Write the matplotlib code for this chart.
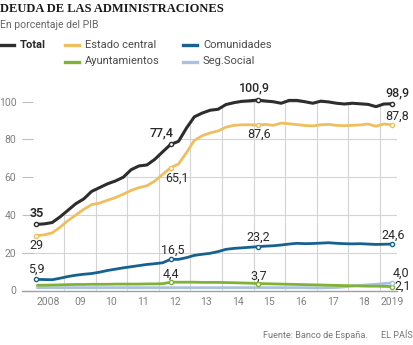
import numpy as np
import matplotlib.pyplot as plt
from matplotlib.patches import Polygon

# Deuda por administración, % del PIB, trimestral 2008T1-2019T2
total = [35.0, 35.3, 36.0, 39.0, 42.5, 46.0, 48.5, 52.5, 54.5, 56.5,
         58.0, 60.0, 64.0, 66.0, 66.5, 69.5, 73.5, 77.4, 79.0, 86.0,
         92.0, 94.0, 95.5, 96.0, 98.5, 99.5, 100.2, 100.5, 100.9, 100.4,
         100.0, 99.2, 100.7, 100.7, 100.0, 99.2, 100.3, 99.9, 99.2, 98.8,
         99.2, 98.9, 98.6, 97.4, 98.8, 98.9]
estado = [29.0, 29.5, 30.5, 33.5, 37.0, 40.0, 43.0, 45.5, 46.3, 47.8,
          49.2, 51.0, 53.0, 54.5, 55.5, 58.0, 61.5, 65.1, 67.0, 73.0,
          79.5, 82.0, 83.5, 84.5, 86.5, 87.5, 87.8, 87.8, 87.6, 88.0,
          87.5, 88.7, 88.3, 87.9, 87.4, 87.2, 87.8, 88.0, 87.5, 87.3,
          87.5, 87.7, 88.2, 87.0, 88.2, 87.8]
comunidades = [5.9, 5.8, 5.7, 6.5, 7.4, 8.1, 8.6, 9.0, 9.7, 10.6,
               11.3, 12.0, 12.6, 13.2, 13.8, 14.2, 14.7, 16.5, 16.5, 17.4,
               18.6, 19.2, 19.7, 20.6, 21.8, 22.3, 22.6, 22.9, 23.2, 23.5,
               23.7, 24.1, 24.6, 25.0, 24.8, 24.9, 25.1, 25.3, 25.0, 24.8,
               24.7, 24.8, 24.6, 24.4, 24.5, 24.6]
ayuntamientos = [2.8, 2.8, 2.9, 3.0, 3.1, 3.2, 3.2, 3.3, 3.3, 3.3,
                 3.4, 3.4, 3.4, 3.4, 3.5, 3.5, 3.6, 4.4, 4.4, 4.4,
                 4.4, 4.3, 4.3, 4.3, 4.2, 4.1, 4.0, 3.9, 3.7, 3.6,
                 3.5, 3.4, 3.3, 3.2, 3.1, 3.0, 2.9, 2.8, 2.7, 2.6,
                 2.5, 2.4, 2.3, 2.3, 2.2, 2.1]
seg_social = [1.5, 1.5, 1.5, 1.5, 1.5, 1.5, 1.5, 1.5, 1.5, 1.5,
              1.5, 1.5, 1.5, 1.5, 1.5, 1.5, 1.5, 1.5, 1.5, 1.5,
              1.5, 1.5, 1.5, 1.5, 1.5, 1.5, 1.5, 1.5, 1.5, 1.5,
              1.5, 1.5, 1.5, 1.5, 1.5, 1.4, 1.4, 1.5, 1.6, 1.9,
              2.4, 2.7, 3.0, 3.3, 3.7, 4.0]

year_labels = ["2008", "09", "10", "11", "12", "13", "14", "15", "16", "17", "18", "2019"]
y_ticks = [0, 20, 40, 60, 80, 100]

C_TOTAL = "#2d2d2d"
C_ESTADO = "#efbf5f"
C_CCAA = "#17618f"
C_AYTO = "#80b236"
C_SS = "#a9c2dd"
GRID = "#d4d4d4"

plt.rcParams["font.family"] = ["Roboto", "DejaVu Sans"]

W, H = 414, 345
fig = plt.figure(figsize=(W / 100, H / 100), dpi=100)


def fx(px):
    return px / W


def fy(py):
    return 1 - py / H


ax = fig.add_axes([fx(22), fy(290.5), (397 - 22) / W, (290.5 - 92.3) / H])
ax.set_xlim(2007.671, 2019.54)
ax.set_ylim(0, 105)

x = 2008 + (np.arange(len(total)) + 0.5) / 4
x0, x1 = ax.get_xlim()

# gridlines only show in the area under the total line
verts = [(x0, 0), (x0, total[0])] + list(zip(x, total)) + [(x1, total[-1]), (x1, 0)]
clip = Polygon(verts, closed=True, transform=ax.transData)

for yv in y_ticks[1:]:
    ln, = ax.plot([x0, x1], [yv, yv], color=GRID, lw=0.8, zorder=1)
    ln.set_clip_path(clip)
for yr in range(2009, 2020):
    ln, = ax.plot([yr, yr], [0, 105], color=GRID, lw=0.8, zorder=1)
    ln.set_clip_path(clip)

ax.plot(x, seg_social, color=C_SS, lw=2.0, zorder=3, solid_capstyle="butt")
ax.plot(x, ayuntamientos, color=C_AYTO, lw=2.0, zorder=4, solid_capstyle="butt")
ax.plot(x, comunidades, color=C_CCAA, lw=2.0, zorder=5, solid_capstyle="butt")
ax.plot(x, estado, color=C_ESTADO, lw=2.0, zorder=6, solid_capstyle="butt")
ax.plot(x, total, color=C_TOTAL, lw=2.2, zorder=7, solid_capstyle="butt")

# value labels: (series, color, index, dx px, dy px, decimals, weight)
labels = [
    (total, C_TOTAL, 0, 0.5, 10.5, 0, "bold"),
    (total, C_TOTAL, 17, -8.5, 11, 1, "medium"),
    (total, C_TOTAL, 28, -3, 12, 1, "medium"),
    (total, C_TOTAL, 45, 5.5, 11, 1, "medium"),
    (estado, C_ESTADO, 0, 0.5, -9.5, 0, "normal"),
    (estado, C_ESTADO, 17, 6, -11, 1, "normal"),
    (estado, C_ESTADO, 28, 2, -9, 1, "normal"),
    (estado, C_ESTADO, 45, 5.5, 9, 1, "normal"),
    (comunidades, C_CCAA, 0, 0.5, 10.5, 1, "normal"),
    (comunidades, C_CCAA, 17, 2, 9, 1, "normal"),
    (comunidades, C_CCAA, 28, 0.5, 9, 1, "normal"),
    (comunidades, C_CCAA, 45, 1.5, 8.5, 1, "normal"),
    (ayuntamientos, C_AYTO, 17, 0.5, 8, 1, "normal"),
    (ayuntamientos, C_AYTO, 28, 1.5, 7, 1, "normal"),
    (ayuntamientos, C_AYTO, 45, 10.5, 0, 1, "normal"),
    (seg_social, C_SS, 45, 9, 10, 1, "normal"),
]
for series, col, i, dx, dy, dec, wt in labels:
    v = series[i]
    ax.plot(x[i], v, "o", ms=3.0, mfc="white", mec=col, mew=1.0, zorder=9)
    txt = f"{v:.{dec}f}".replace(".", ",")
    ax.annotate(txt, (x[i], v), xytext=(dx * 0.72, dy * 0.72),
                textcoords="offset points", ha="center", va="center",
                fontsize=9, color="#2a2a2a", fontweight=wt,
                annotation_clip=False, zorder=10)

# axes styling
for side in ["top", "right", "left"]:
    ax.spines[side].set_visible(False)
ax.spines["bottom"].set_color("#a0a0a0")
ax.spines["bottom"].set_linewidth(1.0)
ax.set_yticks(y_ticks)
ax.set_yticklabels([str(t) for t in y_ticks])
ax.tick_params(axis="y", direction="in", length=8, width=0.8, color="#c0c0c0",
               labelcolor="#808080", labelsize=7.5, pad=4)
ax.set_xticks([2008.5 + k for k in range(11)] + [2019.38])
ax.set_xticklabels(year_labels)
ax.tick_params(axis="x", length=0, labelcolor="#808080", labelsize=7.5, pad=5)

# header
fig.text(0, fy(8.5), "DEUDA DE LAS ADMINISTRACIONES", family="Liberation Serif",
         fontweight="bold", fontsize=9.0, color="#1a1a1a", va="center", ha="left")
fig.text(0, fy(25.5), "En porcentaje del PIB", fontsize=7.5, color="#666666",
         va="center", ha="left")

legend_items = [
    ("Total", C_TOTAL, 0, 45, "bold"),
    ("Estado central", C_ESTADO, 65, 45, "normal"),
    ("Comunidades", C_CCAA, 183, 45, "normal"),
    ("Ayuntamientos", C_AYTO, 65, 61.5, "normal"),
    ("Seg.Social", C_SS, 183, 61.5, "normal"),
]
for name, col, lx, ly, wt in legend_items:
    fig.add_artist(plt.Line2D([fx(lx), fx(lx + 14)], [fy(ly), fy(ly)],
                              color=col, lw=2.4, transform=fig.transFigure))
    fig.text(fx(lx + 20), fy(ly), name, fontsize=8, color="#4a4a4a" if wt == "normal" else "#2a2a2a",
             fontweight=wt, va="center", ha="left")

fig.text(fx(368), fy(335), "Fuente: Banco de España.", fontsize=6.6, color="#777777",
         va="center", ha="right")
fig.text(fx(413), fy(335), "EL PAÍS", fontsize=6.6, color="#777777", va="center", ha="right")

fig.savefig("out.png", dpi=100)
